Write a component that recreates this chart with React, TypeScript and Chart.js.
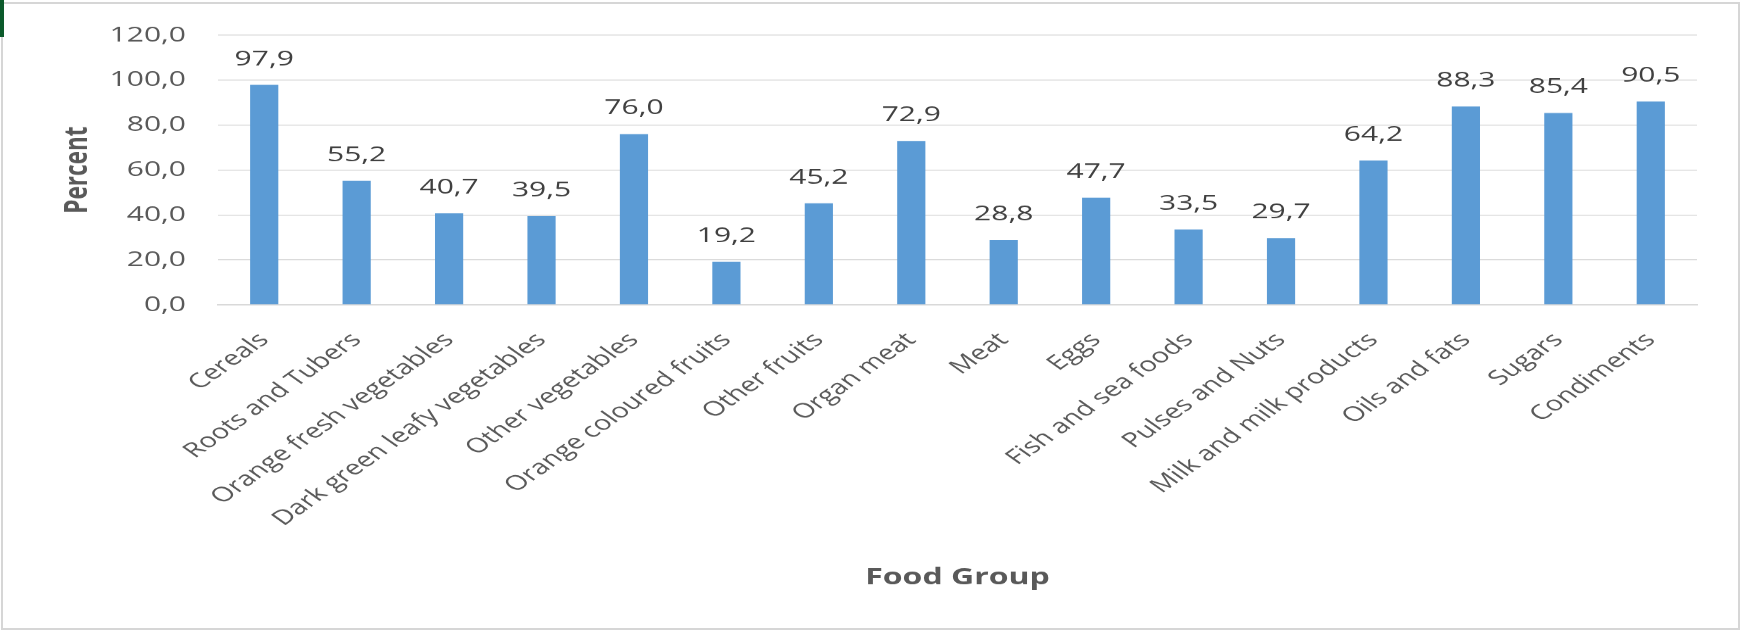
import { useEffect, useRef } from "react";
import { Chart, registerables } from "chart.js";

Chart.register(...registerables);

// Food groups consumed, share of households (%)
const categories = [
  "Cereals",
  "Roots and Tubers",
  "Orange fresh vegetables",
  "Dark green leafy vegetables",
  "Other vegetables",
  "Orange coloured fruits",
  "Other fruits",
  "Organ meat",
  "Meat",
  "Eggs",
  "Fish and sea foods",
  "Pulses and Nuts",
  "Milk and milk products",
  "Oils and fats",
  "Sugars",
  "Condiments",
];

const percentValues = [
  97.9, 55.2, 40.7, 39.5, 76.0, 19.2, 45.2, 72.9, 28.8, 47.7, 33.5, 29.7, 64.2, 88.3, 85.4, 90.5,
];

const yTickValues = [0, 20, 40, 60, 80, 100, 120];

const xAxisTitle = "Food Group";
const yAxisTitle = "Percent";

// The chart is drawn on a taller backing canvas and shown squeezed to 630px,
// which gives the wide lettering of the original export.
const DISPLAY_W = 1741;
const DISPLAY_H = 630;
const SQUEEZE = 1.42;
const CANVAS_H = Math.round(DISPLAY_H * SQUEEZE);

const FONT = "'Open Sans', 'DejaVu Sans', sans-serif";
const BAR_BLUE = "#5B9BD5";
const TEXT_GREY = "#595959";
const GRID_GREY = "#d9d9d9";

const fmt = (v: number) => v.toFixed(1).replace(".", ",");

const valueLabels = {
  id: "valueLabels",
  afterDatasetsDraw(chart: any) {
    const { ctx } = chart;
    const meta = chart.getDatasetMeta(0);
    const data = chart.data.datasets[0].data as number[];
    ctx.save();
    ctx.font = `30px ${FONT}`;
    ctx.fillStyle = "#404040";
    ctx.textAlign = "center";
    ctx.textBaseline = "alphabetic";
    meta.data.forEach((bar: any, i: number) => {
      ctx.fillText(fmt(data[i]), bar.x, bar.y - 28);
    });
    ctx.restore();
  },
};

export default function App() {
  const canvasRef = useRef<HTMLCanvasElement | null>(null);

  useEffect(() => {
    const canvas = canvasRef.current;
    if (!canvas) return;
    const plotLeft = 218;
    const plotRight = 1697;
    const plotTop = Math.round(33 * SQUEEZE);
    const zeroY = Math.round(305 * SQUEEZE);

    const chart = new Chart(canvas, {
      type: "bar",
      data: {
        labels: categories,
        datasets: [
          {
            data: percentValues,
            backgroundColor: BAR_BLUE,
            borderWidth: 0,
            barPercentage: 0.305,
            categoryPercentage: 1,
          },
        ],
      },
      options: {
        responsive: false,
        animation: false,
        devicePixelRatio: 1,
        layout: {
          padding: { left: 0, right: DISPLAY_W - plotRight, top: plotTop, bottom: 0 },
        },
        plugins: {
          legend: { display: false },
          tooltip: { enabled: false },
        },
        scales: {
          x: {
            offset: true,
            grid: { display: false, drawTicks: false },
            border: { display: true, color: GRID_GREY, width: 2 },
            ticks: {
              color: TEXT_GREY,
              font: { family: FONT, size: 29 },
              minRotation: 45,
              maxRotation: 45,
              autoSkip: false,
              padding: 33,
            },
            title: {
              display: true,
              text: xAxisTitle,
              color: TEXT_GREY,
              font: { family: FONT, size: 32, weight: "bold" },
              padding: { top: 0, bottom: 55 },
            },
            afterFit: (scale: any) => {
              scale.height = CANVAS_H - zeroY;
            },
          },
          y: {
            min: 0,
            max: 120,
            grid: { color: GRID_GREY, lineWidth: 1.5, drawTicks: false },
            border: { display: false },
            ticks: {
              color: TEXT_GREY,
              font: { family: FONT, size: 30 },
              padding: 32,
              callback: (v: any) => fmt(Number(v)),
            },
            afterBuildTicks: (scale: any) => {
              scale.ticks = yTickValues.map((value) => ({ value }));
            },
            title: {
              display: true,
              text: yAxisTitle,
              color: TEXT_GREY,
              font: { family: FONT, size: 32, weight: "bold" },
              padding: { top: 59, bottom: 0 },
            },
            afterFit: (scale: any) => {
              scale.width = plotLeft;
            },
          },
        },
      },
      plugins: [valueLabels],
    });

    return () => chart.destroy();
  }, []);

  return (
    <div
      style={{
        position: "absolute",
        left: 0,
        top: 0,
        width: DISPLAY_W,
        height: DISPLAY_H,
        background: "#ffffff",
        overflow: "hidden",
      }}
    >
      <canvas
        ref={canvasRef}
        width={DISPLAY_W}
        height={CANVAS_H}
        style={{ width: `${DISPLAY_W}px`, height: `${DISPLAY_H}px`, display: "block" }}
      />
      <div
        style={{
          position: "absolute",
          left: 1,
          top: 2,
          width: DISPLAY_W - 2,
          height: DISPLAY_H - 2,
          boxSizing: "border-box",
          border: "2px solid #d6d6d6",
          pointerEvents: "none",
        }}
      />
      <div
        style={{
          position: "absolute",
          left: 0,
          top: 0,
          width: 4,
          height: 37,
          background: "#0b5a2b",
        }}
      />
    </div>
  );
}
